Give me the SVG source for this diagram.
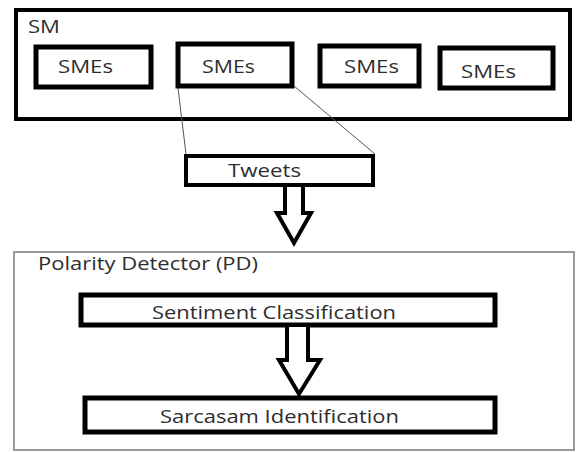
<svg xmlns="http://www.w3.org/2000/svg" width="576" height="452" viewBox="0 0 576 452">
<style>
.box{fill:#fff;stroke:#000;stroke-width:5}
.t{font-family:"Open Sans","Liberation Sans",sans-serif;font-size:19px;fill:#2e2e2e}
.arr{fill:#fff;stroke:#000;stroke-width:4;stroke-linejoin:miter}
.thin{stroke:#555;stroke-width:1;fill:none}
</style>
<rect width="576" height="452" fill="#fff"/>
<g id="SM">
<rect x="16" y="10" width="554" height="109" class="box" style="stroke-width:4"/>
<text x="28" y="33" class="t" textLength="32" lengthAdjust="spacingAndGlyphs">SM</text>
</g>
<g id="SMEs1">
<rect x="36" y="47" width="115" height="40" class="box"/>
<text x="58" y="73" class="t" textLength="55" lengthAdjust="spacingAndGlyphs">SMEs</text>
</g>
<g id="SMEs2">
<rect x="178" y="44" width="114" height="42" class="box"/>
<text x="202" y="73" class="t" textLength="53" lengthAdjust="spacingAndGlyphs">SMEs</text>
</g>
<g id="SMEs3">
<rect x="320" y="46" width="99" height="40" class="box"/>
<text x="344" y="73" class="t" textLength="55" lengthAdjust="spacingAndGlyphs">SMEs</text>
</g>
<g id="SMEs4">
<rect x="440" y="48" width="113" height="40" class="box"/>
<text x="461" y="78" class="t" textLength="55" lengthAdjust="spacingAndGlyphs">SMEs</text>
</g>
<g id="Tweets">
<rect x="186" y="156" width="187" height="29" class="box" style="stroke-width:4"/>
<text x="228" y="177" class="t" textLength="73" lengthAdjust="spacingAndGlyphs">Tweets</text>
</g>
<g id="PD">
<rect x="14" y="252" width="560" height="198" fill="none" stroke="#9a9a9a" stroke-width="2"/>
<text x="38" y="270" class="t" textLength="220" lengthAdjust="spacingAndGlyphs">Polarity Detector (PD)</text>
</g>
<g id="Sentiment">
<rect x="81" y="295" width="414" height="30" class="box"/>
<text x="152" y="319" class="t" textLength="244" lengthAdjust="spacingAndGlyphs">Sentiment Classification</text>
</g>
<g id="Sarcasam">
<rect x="85" y="398" width="410" height="34" class="box"/>
<text x="160" y="423" class="t" textLength="239" lengthAdjust="spacingAndGlyphs">Sarcasam Identification</text>
</g>
<g id="connectors">
<line x1="178" y1="88" x2="186" y2="154" class="thin"/>
<line x1="294" y1="86" x2="375" y2="154" class="thin"/>
<path d="M285,187 V213 H277 L294,243 L311,213 H303 V187" class="arr"/>
<path d="M287,327 V360 H279 L299,394 L320,360 H308 V327" class="arr"/>
</g>
</svg>
